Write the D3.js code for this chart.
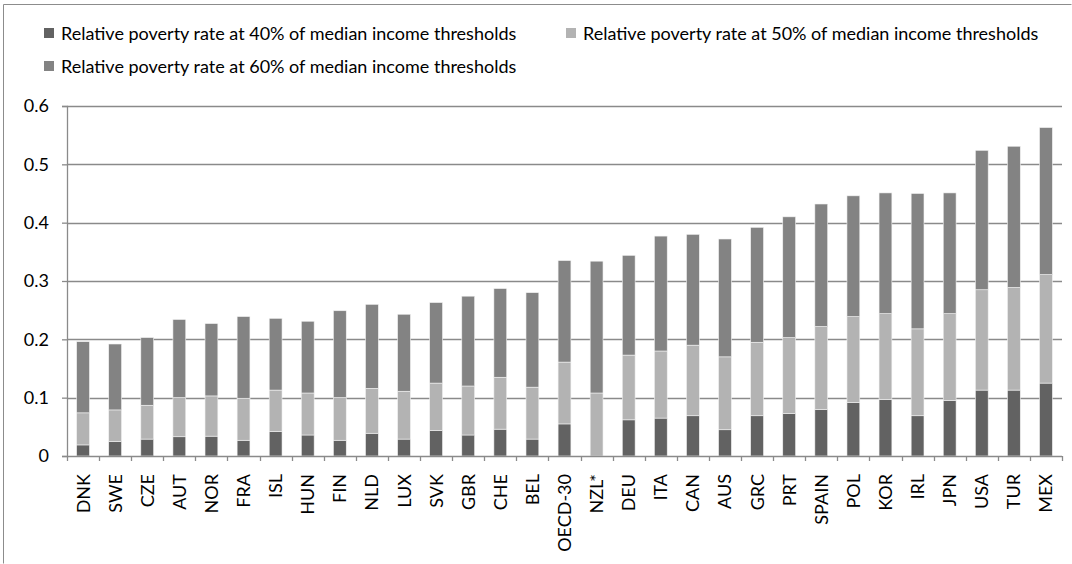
<!DOCTYPE html>
<html>
<head>
<meta charset="utf-8">
<script src="https://cdn.jsdelivr.net/npm/d3@7"></script>
<style>
  body { margin: 0; background: #fff; }
  svg { display: block; font-family: Lato, "Open Sans", sans-serif; }
</style>
</head>
<body>
<svg id="chart" width="1072" height="564"></svg>
<script>
const countries = ["DNK", "SWE", "CZE", "AUT", "NOR", "FRA", "ISL", "HUN", "FIN", "NLD",
  "LUX", "SVK", "GBR", "CHE", "BEL", "OECD-30", "NZL*", "DEU", "ITA", "CAN",
  "AUS", "GRC", "PRT", "SPAIN", "POL", "KOR", "IRL", "JPN", "USA", "TUR", "MEX"];

// rates (each segment's own height)
const rate40 = [0.019, 0.025, 0.029, 0.033, 0.034, 0.027, 0.042, 0.036, 0.027, 0.039,
  0.029, 0.044, 0.036, 0.046, 0.029, 0.055, 0, 0.062, 0.065, 0.069,
  0.045, 0.069, 0.073, 0.080, 0.092, 0.097, 0.069, 0.095, 0.113, 0.113, 0.125];
const rate50 = [0.055, 0.054, 0.058, 0.067, 0.069, 0.072, 0.071, 0.072, 0.073, 0.077,
  0.082, 0.081, 0.084, 0.089, 0.089, 0.106, 0.108, 0.111, 0.115, 0.121,
  0.125, 0.126, 0.130, 0.142, 0.147, 0.147, 0.149, 0.149, 0.172, 0.176, 0.186];
const rate60 = [0.122, 0.113, 0.116, 0.134, 0.124, 0.140, 0.123, 0.123, 0.149, 0.144,
  0.132, 0.138, 0.154, 0.152, 0.162, 0.174, 0.226, 0.171, 0.197, 0.190,
  0.202, 0.197, 0.207, 0.210, 0.207, 0.207, 0.232, 0.207, 0.239, 0.242, 0.252];

const seriesNames = [
  "Relative poverty rate at 40% of median income thresholds",
  "Relative poverty rate at 50% of median income thresholds",
  "Relative poverty rate at 60% of median income thresholds"
];
const seriesColors = ["#626262", "#b3b3b3", "#838383"];
const yTicks = [0, 0.1, 0.2, 0.3, 0.4, 0.5, 0.6];

const keys = ["r40", "r50", "r60"];
const rows = countries.map((c, i) => ({ country: c, r40: rate40[i], r50: rate50[i], r60: rate60[i] }));

const svg = d3.select("#chart");
const margin = { top: 106, left: 67 };
const innerWidth = 1062 - margin.left;
const innerHeight = 456 - margin.top;
const fontSize = 18;

// outer chart border, only top and left edges show in the frame
svg.append("path")
  .attr("d", "M3.5,563.5V4.5H1071.5")
  .attr("fill", "none")
  .attr("stroke", "#8c8c8c")
  .attr("stroke-width", 1);

const x = d3.scaleBand()
  .domain(countries)
  .range([0, innerWidth])
  .paddingInner(0.6)
  .paddingOuter(0.3);

const y = d3.scaleLinear()
  .domain([0, 0.6])
  .range([innerHeight, 0]);

const g = svg.append("g")
  .attr("transform", `translate(${margin.left},${margin.top})`);

// gridlines
g.append("g")
  .selectAll("line")
  .data(yTicks.slice(1))
  .join("line")
  .attr("x1", 0)
  .attr("x2", innerWidth)
  .attr("y1", d => Math.round(y(d)) + 0.5)
  .attr("y2", d => Math.round(y(d)) + 0.5)
  .attr("stroke", "#8a8a8a")
  .attr("stroke-width", 1.3);

// stacked bars
const stacked = d3.stack().keys(keys)(rows);
g.append("g")
  .selectAll("g")
  .data(stacked)
  .join("g")
  .attr("fill", (d, i) => seriesColors[i])
  .selectAll("rect")
  .data(d => d)
  .join("rect")
  .attr("x", d => x(d.data.country))
  .attr("width", x.bandwidth())
  .attr("y", d => y(d[1]))
  .attr("height", d => Math.max(0, y(d[0]) - y(d[1])))
  .attr("stroke", "#f2f2f2")
  .attr("stroke-width", 0.6);

// y axis
g.append("g")
  .call(d3.axisLeft(y).tickValues(yTicks).tickSize(5).tickPadding(13)
    .tickFormat(d => d === 0 ? "0" : d3.format(".1f")(d)))
  .call(a => a.select(".domain").attr("stroke", "#8a8a8a").attr("stroke-width", 1.3))
  .call(a => a.selectAll(".tick line").attr("stroke", "#8a8a8a").attr("stroke-width", 1.3))
  .call(a => a.selectAll("text")
    .attr("fill", "#000")
    .attr("font-size", fontSize)
    .attr("font-family", "Lato, sans-serif"));

// x axis with ticks between categories
const xAxis = g.append("g").attr("transform", `translate(0,${innerHeight})`);
xAxis.append("line")
  .attr("x1", 0).attr("x2", innerWidth)
  .attr("y1", 0.5).attr("y2", 0.5)
  .attr("stroke", "#8a8a8a")
  .attr("stroke-width", 1.3);
xAxis.selectAll(".sep")
  .data(d3.range(countries.length + 1))
  .join("line")
  .attr("class", "sep")
  .attr("x1", i => Math.round(i * innerWidth / countries.length) + 0.5)
  .attr("x2", i => Math.round(i * innerWidth / countries.length) + 0.5)
  .attr("y1", 0)
  .attr("y2", 5)
  .attr("stroke", "#8a8a8a")
  .attr("stroke-width", 1.3);
xAxis.selectAll(".lbl")
  .data(countries)
  .join("text")
  .attr("class", "lbl")
  .attr("transform", d => `translate(${x(d) + x.bandwidth() / 2 + 6.5},18) rotate(-90)`)
  .attr("text-anchor", "end")
  .attr("fill", "#000")
  .attr("font-size", fontSize)
  .text(d => d);

// legend
const legendItems = [
  { name: seriesNames[0], color: seriesColors[0], x: 44, y: 33 },
  { name: seriesNames[1], color: seriesColors[1], x: 566, y: 33 },
  { name: seriesNames[2], color: seriesColors[2], x: 44, y: 66 }
];
const legend = svg.append("g")
  .selectAll("g")
  .data(legendItems)
  .join("g")
  .attr("transform", d => `translate(${d.x},${d.y})`);
legend.append("rect")
  .attr("x", 0).attr("y", -5)
  .attr("width", 10).attr("height", 10)
  .attr("fill", d => d.color);
legend.append("text")
  .attr("x", 17)
  .attr("y", 6.5)
  .attr("fill", "#000")
  .attr("font-size", fontSize)
  .text(d => d.name);
</script>
</body>
</html>
